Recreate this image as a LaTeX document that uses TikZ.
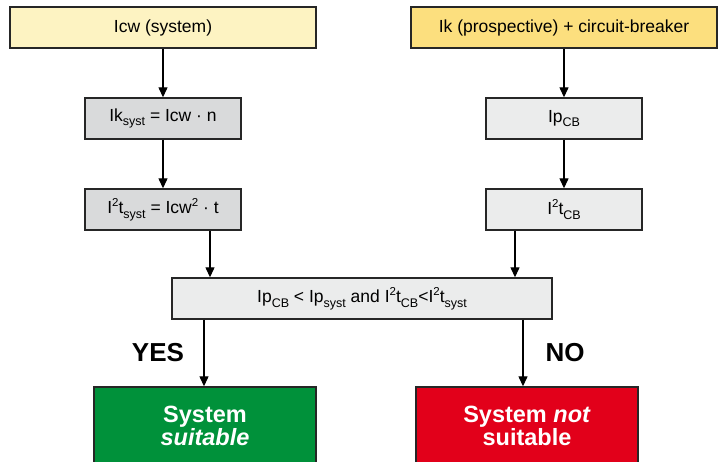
\documentclass[tikz,border=0pt]{standalone}
\usepackage{fontspec}
\setmainfont{Liberation Sans}
\usetikzlibrary{arrows.meta}
\newcommand{\sbs}[1]{\raisebox{-0.28em}{\fontsize{12.5}{13}\selectfont #1}}
\newcommand{\sqr}{\raisebox{0.42em}{\fontsize{11.5}{12}\selectfont 2}}
\definecolor{ylight}{HTML}{FDF3C2}
\definecolor{ydark}{HTML}{FCDF7E}
\definecolor{gmid}{HTML}{D9DADB}
\definecolor{glight}{HTML}{EBECEC}
\definecolor{okgreen}{HTML}{00913A}
\definecolor{nored}{HTML}{E2001A}
\tikzset{
  boxbase/.style={draw=black!85, line width=1.4pt, inner sep=0pt, font=\fontsize{17.5}{20}\selectfont},
  arr/.style={-{Triangle[length=10pt,width=9pt]}, line width=1.3pt, black},
  lbl/.style={font=\bfseries\fontsize{26}{28}\selectfont},
  result/.style={boxbase, text=white, minimum width=222pt, minimum height=78pt, font=\bfseries\fontsize{23.5}{25}\selectfont, align=center}
}
\begin{document}
\begin{tikzpicture}[x=1pt,y=-1pt]
\useasboundingbox (0,0) rectangle (718,462);
\node[boxbase, fill=ylight, minimum width=306pt, minimum height=41pt] (icw) at (163,27.5) {Icw (system)};
\node[boxbase, fill=ydark, minimum width=306pt, minimum height=41pt] (ik) at (564,27.5) {Ik (prospective) + circuit-breaker};
\node[boxbase, fill=gmid, minimum width=156pt, minimum height=41pt] (iks) at (163,118.5) {Ik\sbs{syst} = Icw · n};
\node[boxbase, fill=gmid, minimum width=156pt, minimum height=41pt] (its) at (163,209.5) {I\sqr t\sbs{syst} = Icw\sqr{} · t};
\node[boxbase, fill=glight, minimum width=156pt, minimum height=41pt] (ipcb) at (564,118.5) {Ip\sbs{CB}};
\node[boxbase, fill=glight, minimum width=156pt, minimum height=41pt] (itcb) at (564,209.5) {I\sqr t\sbs{CB}};
\node[boxbase, fill=glight, minimum width=380pt, minimum height=41pt] (comp) at (362,298.5) {Ip\sbs{CB} < Ip\sbs{syst} and I\sqr t\sbs{CB}<I\sqr t\sbs{syst}};
\node[result, fill=okgreen] (yes) at (205,426) {System\\[-2pt]\itshape suitable};
\node[result, fill=nored] (no) at (527,426) {System \textit{not}\\[-2pt]suitable};
\node[lbl] (yeslbl) at (158,353) {YES};
\node[lbl] (nolbl) at (565,353) {NO};
\draw[arr] (icw.south) -- (iks.north);
\draw[arr] (iks.south) -- (its.north);
\draw[arr] (ik.south) -- (ipcb.north);
\draw[arr] (ipcb.south) -- (itcb.north);
\draw[arr] ([xshift=47pt]its.south) -- ([xshift=47pt]its.south |- comp.north);
\draw[arr] ([xshift=-49pt]itcb.south) -- ([xshift=-49pt]itcb.south |- comp.north);
\draw[arr] ([xshift=-1pt]yes.north |- comp.south) -- ([xshift=-1pt]yes.north);
\draw[arr] ([xshift=-4pt]no.north |- comp.south) -- ([xshift=-4pt]no.north);
\end{tikzpicture}
\end{document}
